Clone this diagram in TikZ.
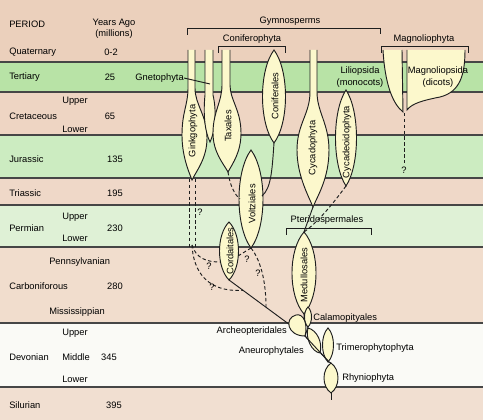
\documentclass[tikz,border=0pt]{standalone}
\usepackage{fontspec}
\setmainfont{Liberation Sans}
\usetikzlibrary{calc}
\definecolor{bgTan}{RGB}{235,208,188}
\definecolor{bgCret}{RGB}{238,213,195}
\definecolor{bgTri}{RGB}{239,216,200}
\definecolor{bgCarb}{RGB}{241,221,205}
\definecolor{bgSil}{RGB}{241,223,209}
\definecolor{gTert}{RGB}{184,227,166}
\definecolor{gJur}{RGB}{204,236,193}
\definecolor{gPerm}{RGB}{223,241,214}
\definecolor{devW}{RGB}{250,250,246}
\definecolor{spinfill}{RGB}{252,248,204}
\definecolor{linec}{RGB}{30,30,30}
\definecolor{bandline}{RGB}{70,70,70}
\newcommand\mylens[5]{%
  \pgfmathsetmacro\lensh{0.22*(#4-#3)}%
  \pgfmathsetmacro\lensw{1.333*#5}%
  \path[spin] (#2,#3) .. controls +(\lensw,\lensh) and +(\lensw,-\lensh) .. (#2,#4)
     .. controls +(-\lensw,-\lensh) and +(-\lensw,\lensh) .. (#2,#3) -- cycle;
  \coordinate (#1-t) at (#2,#3);
  \coordinate (#1-b) at (#2,#4);
}
\begin{document}
\begin{tikzpicture}[x=0.75pt,y=-0.75pt,
  lbl/.style={font=\fontsize{7}{8.5}\selectfont, inner sep=0pt, text=black},
  spin/.style={fill=spinfill, draw=linec, line width=0.7pt},
  edge/.style={draw=linec, line width=0.7pt},
  dashedge/.style={draw=linec, line width=0.7pt, dash pattern=on 2.6pt off 1.8pt},
  bandln/.style={draw=bandline, line width=0.8pt},
  brk/.style={draw=linec, line width=0.7pt}]
\useasboundingbox (0,0) rectangle (483,420);
% background bands
\fill[bgTan] (0,0) rectangle (483,62);
\fill[gTert] (0,62) rectangle (483,92);
\fill[bgCret] (0,92) rectangle (483,135);
\fill[gJur] (0,135) rectangle (483,178);
\fill[bgTri] (0,178) rectangle (483,205);
\fill[gPerm] (0,205) rectangle (483,247);
\fill[bgCarb] (0,247) rectangle (483,323);
\fill[devW] (0,323) rectangle (483,387);
\fill[bgSil] (0,387) rectangle (483,420);
\foreach \yy in {62,92,135,178,205,247,323,387} \draw[bandln] (0,\yy) -- (483,\yy);
% left column
\node[lbl,anchor=west] (hPeriod) at (9,24) {PERIOD};
\node[lbl,align=center] (hYears) at (114,28.5) {Years Ago\\(millions)};
\node[lbl,anchor=west] (pQuat) at (9,52) {Quaternary};
\node[lbl] (nQuat) at (111,52) {0-2};
\node[lbl,anchor=west] (pTert) at (9,77) {Tertiary};
\node[lbl] (nTert) at (110,77) {25};
\node[lbl,anchor=west] (pCretU) at (62,101) {Upper};
\node[lbl,anchor=west] (pCret) at (9,116) {Cretaceous};
\node[lbl] (nCret) at (110,116) {65};
\node[lbl,anchor=west] (pCretL) at (62,129) {Lower};
\node[lbl,anchor=west] (pJur) at (9,159) {Jurassic};
\node[lbl] (nJur) at (115,159) {135};
\node[lbl,anchor=west] (pTri) at (9,193) {Triassic};
\node[lbl] (nTri) at (115,193) {195};
\node[lbl,anchor=west] (pPermU) at (62,217) {Upper};
\node[lbl,anchor=west] (pPerm) at (9,228) {Permian};
\node[lbl] (nPerm) at (115,228) {230};
\node[lbl,anchor=west] (pPermL) at (62,238) {Lower};
\node[lbl,anchor=west] (pPenn) at (49,262) {Pennsylvanian};
\node[lbl,anchor=west] (pCarb) at (9,286) {Carboniforous};
\node[lbl] (nCarb) at (115,286) {280};
\node[lbl,anchor=west] (pMiss) at (49,312) {Mississippian};
\node[lbl,anchor=west] (pDevU) at (62,333) {Upper};
\node[lbl,anchor=west] (pDev) at (9,357) {Devonian};
\node[lbl,anchor=west] (pDevM) at (62,357) {Middle};
\node[lbl] (nDev) at (109,357) {345};
\node[lbl,anchor=west] (pDevL) at (62,379) {Lower};
\node[lbl,anchor=west] (pSil) at (9,405) {Silurian};
\node[lbl] (nSil) at (114,405) {395};
% brackets
\draw[brk] (187,35) -- (187,28) -- (380,28) -- (380,34);
\node[lbl] (tGym) at (290,21) {Gymnosperms};
\draw[brk] (218,53) -- (218,46) -- (285,46) -- (285,53);
\node[lbl] (tConph) at (252,39) {Coniferophyta};
\draw[brk] (381,53) -- (381,46) -- (468,46) -- (468,53);
\node[lbl] (tMagph) at (424,39) {Magnoliophyta};
\draw[brk] (286,235) -- (286,228) -- (371,228) -- (371,235);
\node[lbl] (tPter) at (327,220) {Pteridospermales};
% named points
\coordinate (voltR) at (262,196);
\coordinate (voltL) at (240,199);
\coordinate (cordL) at (220,262);
\coordinate (cordR) at (238,256);
\coordinate (J1) at (305,336);
\coordinate (J2) at (329,362);
\coordinate (gkA1) at (189,179);
\coordinate (gkA2) at (189,247);
\coordinate (gkB1) at (195,179);
\coordinate (gkB2) at (195,247);
\coordinate (gkJ) at (192,245);
\coordinate (rhyTail) at (331,400);
\coordinate (liliB) at (404,113);
\coordinate (liliQ) at (404,163);
% spindles and tubes
\path[spin] (188,50) -- (188,88) .. controls (188,105) and (182,112) .. (182,135)
  .. controls (182,155) and (188,170) .. (192,180)
  .. controls (197,170) and (207,158) .. (207,138)
  .. controls (207,115) and (195,105) .. (195,88) -- (195,50);
\coordinate (gink-b) at (192,180);
\path[spin] (205,50) -- (205,95) .. controls (203,115) and (205,132) .. (210,142)
  .. controls (215,132) and (217,112) .. (213,95) -- (213,50);
\coordinate (gnet) at (210,84);
\path[spin] (222,50) -- (222,85) .. controls (222,102) and (213,112) .. (213,133)
  .. controls (213,152) and (223,163) .. (228,172)
  .. controls (233,163) and (241,152) .. (241,133)
  .. controls (241,110) and (230,100) .. (230,85) -- (230,50);
\coordinate (tax-b) at (228,172);
\path[spin] (310,50) -- (310,92) .. controls (310,114) and (297,124) .. (297,150)
  .. controls (297,175) and (308,195) .. (313,207)
  .. controls (318,195) and (329,178) .. (329,150)
  .. controls (329,124) and (317,112) .. (317,92) -- (317,50);
\coordinate (cyc-b) at (313,207);
\path[spin] (383,50) .. controls (385,85) and (393,104) .. (403,112) -- (402,50);
\path[spin] (407,50) -- (407,110) .. controls (412,103) and (425,100) .. (440,97)
  .. controls (460,92) and (465,75) .. (465,50);
\mylens{conif}{274}{50}{143}{11.5}
\mylens{volt}{251}{150}{248}{12}
\mylens{cord}{229}{222}{280}{9.5}
\mylens{cycad}{346}{90}{186}{10.5}
\mylens{medul}{304}{232}{314}{12}
\mylens{calam}{308}{307}{327}{3.5}
\mylens{trim}{328}{328}{362}{5.5}
\mylens{rhy}{331}{363}{393}{7}
% connectors
\draw[edge] (conif-b) .. controls (272,172) and (271,188) .. (voltR);
\draw[dashedge] (tax-b) .. controls (230,186) and (235,195) .. (voltL);
\draw[dashedge] (gkA1) -- (gkA2);
\draw[dashedge] (gkB1) -- (gkB2);
\draw[dashedge] (gkJ) .. controls (196,258) and (206,262) .. (cordL);
\draw[dashedge] (gkJ) .. controls (194,282) and (218,292) .. ($(cord-b)!0.184!(J1)$);
\draw[dashedge] (volt-b) -- (cordR);
\draw[dashedge] (volt-b) .. controls (262,262) and (266,285) .. ($(cord-b)!0.487!(J1)$);
\draw[edge] (cyc-b) -- (medul-t);
\draw[dashedge] (cycad-b) .. controls (332,205) and (318,222) .. (medul-t);
\draw[edge] (cord-b) -- (J1);
\draw[edge] (medul-b) -- (J1);
\draw[edge] (calam-b) -- (J1);
\draw[edge] (J1) -- (J2);
\draw[edge] (trim-b) -- (J2) -- (rhy-t);
\draw[edge] (rhy-b) -- (rhyTail);
\draw[dashedge] (liliB) -- (liliQ);
% small blobs
\path[spin] (J1) .. controls (287,336) and (284,318) .. (296,315)
  .. controls (304,313) and (308,325) .. (J1);
\path[spin] (320,353) .. controls (312,352) and (305,338) .. (308,328)
  .. controls (317,330) and (323,343) .. (320,353);
\draw[edge] (J1) -- (J2);
% leader
\node[lbl,anchor=east] (tGnet) at (184,78) {Gnetophyta};
\draw[edge] (tGnet.east) -- (gnet);
% vertical labels
\node[lbl,rotate=90] (tGink) at (193,131) {Ginkgophyta};
\node[lbl,rotate=90] (tTax) at (228,126) {Taxales};
\node[lbl,rotate=90] (tConif) at (275,96) {Coniferales};
\node[lbl,rotate=90] (tCyc) at (313,148) {Cycadophyta};
\node[lbl,rotate=90] (tCycad) at (347,142) {Cycadeoidophyta};
\node[lbl,rotate=90] (tVolt) at (252,204) {Voltziales};
\node[lbl,rotate=90] (tCord) at (230,251) {Cordaitales};
\node[lbl,rotate=90] (tMedul) at (304,275) {Medullosales};
% question marks
\node[lbl] (q1) at (200,212) {?};
\node[lbl] (q2) at (209,266) {?};
\node[lbl] (q3) at (212,287) {?};
\node[lbl] (q4) at (247,259) {?};
\node[lbl] (q5) at (258,273) {?};
\node[lbl] (q6) at (404,170) {?};
% right labels
\node[lbl,align=center] (tLili) at (360,77) {Liliopsida\\(monocots)};
\node[lbl,align=center] (tMagn) at (438,77) {Magnoliopsida\\(dicots)};
\node[lbl,anchor=west] (tCalam) at (313,318) {Calamopityales};
\node[lbl,anchor=east] (tArch) at (287,331) {Archeopteridales};
\node[lbl,anchor=east] (tAneu) at (304,351) {Aneurophytales};
\node[lbl,anchor=west] (tTrim) at (336,348) {Trimerophytophyta};
\node[lbl,anchor=west] (tRhy) at (342,378) {Rhyniophyta};
\end{tikzpicture}
\end{document}
